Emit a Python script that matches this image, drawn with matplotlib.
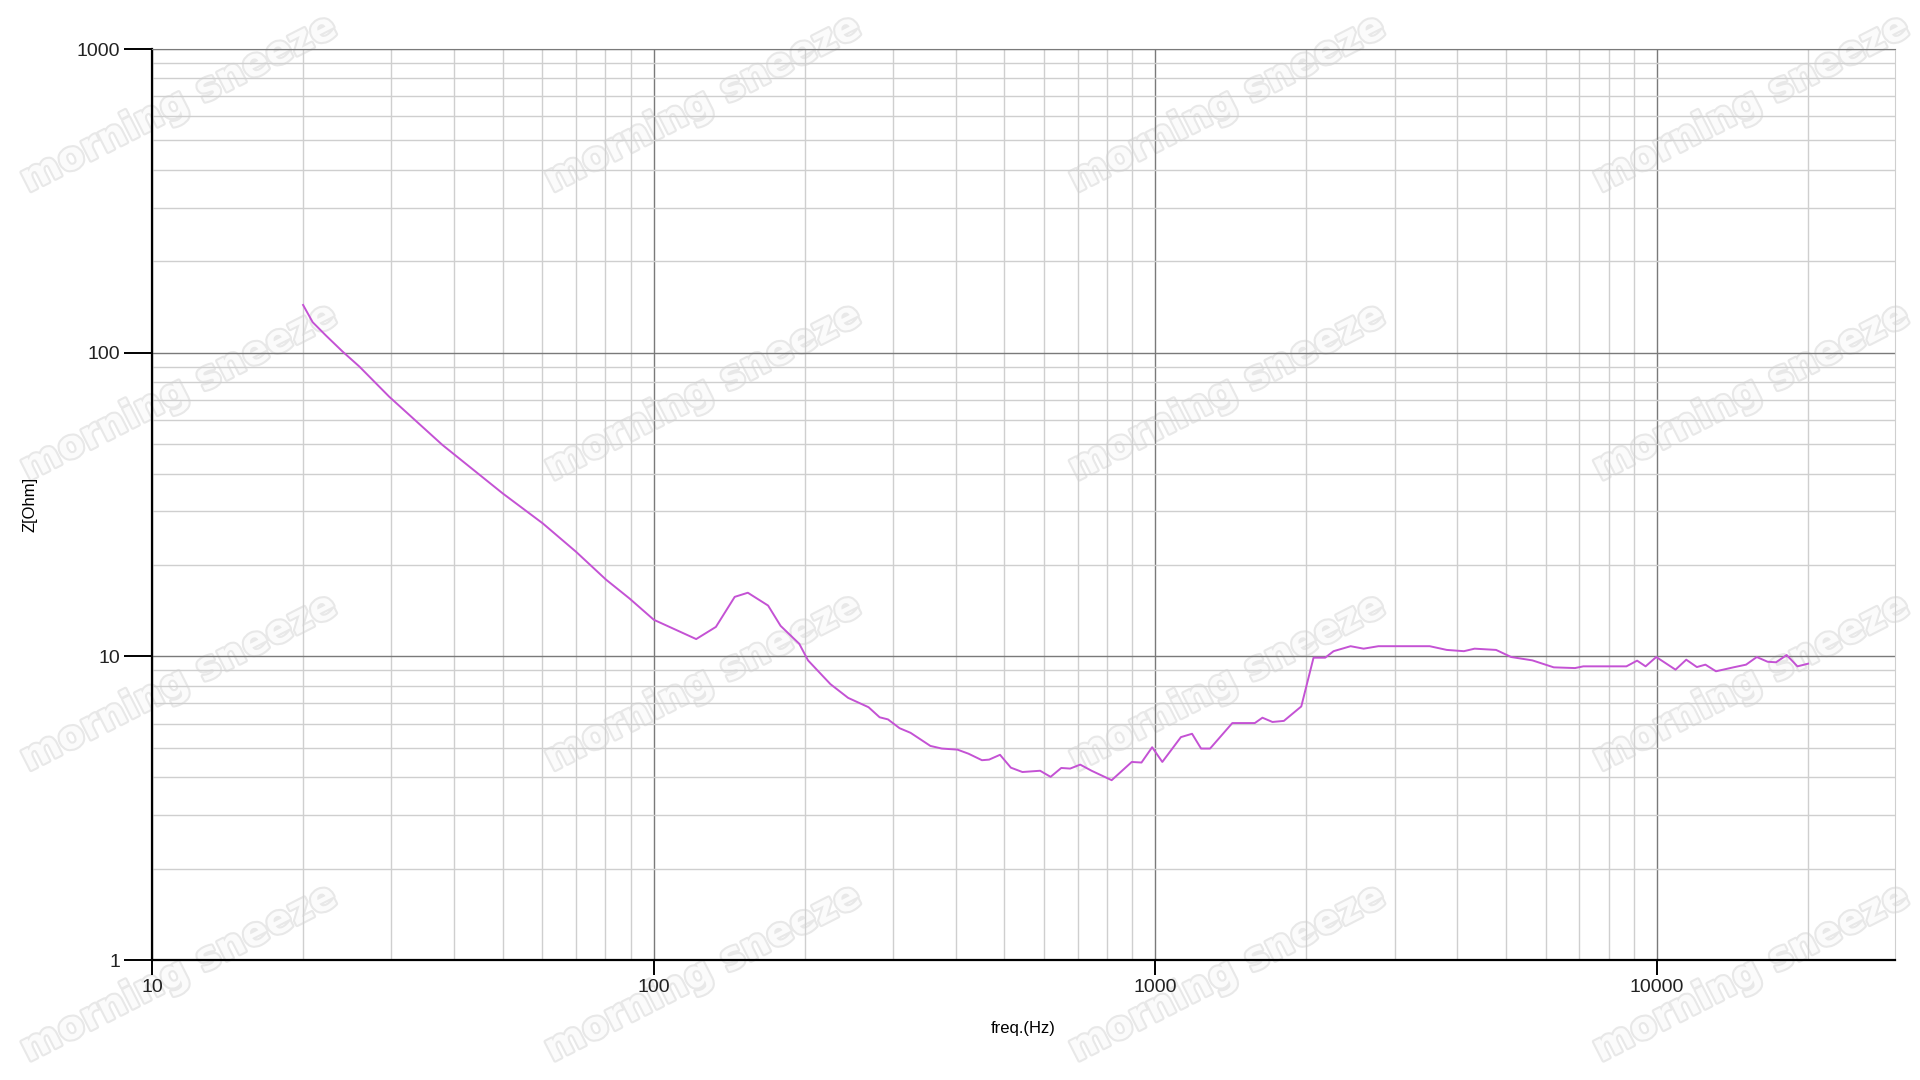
"""Impedance curve Z vs frequency, log-log."""
import matplotlib
matplotlib.use('Agg')
import matplotlib.pyplot as plt
import matplotlib.patheffects as pe
from matplotlib.ticker import LogLocator, NullFormatter, FixedLocator, FixedFormatter

freq = [20, 20.9, 22.2, 24.0, 25.9, 29.7, 37.9, 50, 60.1, 70, 80.3, 89.5, 100,
        121.5, 133, 145, 154, 169, 179, 195, 203, 225, 244, 268, 282, 293, 309,
        325, 356, 375, 403, 424, 451, 466, 490, 515, 543, 589, 618, 649, 676,
        708, 746, 818, 897, 938, 985, 1032, 1124, 1183, 1233, 1285, 1423, 1578,
        1634, 1711, 1803, 1953, 2066, 2180, 2265, 2449, 2600, 2782, 3008, 3521,
        3808, 4120, 4326, 4775, 5117, 5640, 6222, 6860, 7125, 8686, 9121, 9484,
        9960, 10880, 11430, 12000, 12480, 13100, 14190, 15040, 15800, 16600,
        17260, 18120, 19040, 20000]
z_ohm = [143.6, 126, 114, 100.7, 90, 71.6, 49.7, 34.4, 27.4, 22.1, 17.9, 15.5,
         13.2, 11.4, 12.5, 15.7, 16.2, 14.7, 12.6, 11.0, 9.7, 8.1, 7.3, 6.8,
         6.3, 6.2, 5.8, 5.6, 5.07, 4.97, 4.93, 4.78, 4.55, 4.57, 4.74, 4.30,
         4.16, 4.20, 4.01, 4.29, 4.27, 4.40, 4.20, 3.91, 4.49, 4.47, 5.02, 4.49,
         5.42, 5.56, 4.97, 4.97, 6.03, 6.03, 6.28, 6.08, 6.13, 6.84, 9.9, 9.9,
         10.4, 10.8, 10.6, 10.8, 10.8, 10.8, 10.5, 10.4, 10.6, 10.5, 9.95, 9.7,
         9.2, 9.15, 9.27, 9.27, 9.68, 9.27, 9.95, 9.04, 9.75, 9.22, 9.39, 8.93,
         9.2, 9.39, 9.95, 9.6, 9.56, 10.1, 9.27, 9.46]

y_ticks = [1, 10, 100, 1000]
x_ticks = [10, 100, 1000, 10000]
watermark = 'morning sneeze'

plt.rcParams['font.family'] = ['Liberation Sans', 'DejaVu Sans']

fig = plt.figure(figsize=(19.2, 10.8), dpi=100)
fig.patch.set_facecolor('white')
ax = fig.add_axes([0.0792, 0.1111, 0.9078, 0.8435])
ax.patch.set_alpha(0)

ax.plot(freq, z_ohm, color='#c452d4', lw=1.4, zorder=5)

ax.set_xscale('log')
ax.set_yscale('log')
ax.set_xlim(10, 29800)
ax.set_ylim(1, 1000)

ax.xaxis.set_major_locator(FixedLocator(x_ticks))
ax.xaxis.set_major_formatter(FixedFormatter([str(t) for t in x_ticks]))
ax.yaxis.set_major_locator(FixedLocator(y_ticks))
ax.yaxis.set_major_formatter(FixedFormatter([str(t) for t in y_ticks]))
ax.xaxis.set_minor_locator(LogLocator(base=10, subs=range(2, 10), numticks=20))
ax.yaxis.set_minor_locator(LogLocator(base=10, subs=range(2, 10), numticks=20))
ax.xaxis.set_minor_formatter(NullFormatter())
ax.yaxis.set_minor_formatter(NullFormatter())

ax.grid(which='major', color='#7a7a7a', lw=1.0)
ax.grid(which='minor', color='#cfcfcf', lw=1.0)
ax.set_axisbelow(True)

ax.tick_params(axis='y', which='major', length=20, width=1.4, labelsize=14,
               color='black', labelcolor='#222222', pad=3)
ax.tick_params(axis='x', which='major', length=11, width=1.4, labelsize=14,
               color='black', labelcolor='#222222', pad=3)
ax.tick_params(which='minor', length=0)

for side in ('left', 'bottom'):
    ax.spines[side].set_color('black')
    ax.spines[side].set_linewidth(1.6)
ax.spines['top'].set_color('#7a7a7a')
ax.spines['right'].set_color('#cfcfcf')

ax.set_xlabel('freq.(Hz)', fontsize=12, labelpad=18)
ax.set_ylabel('Z[Ohm]', fontsize=12, labelpad=28)

# watermark grid, drawn under the axes
for cx in [0.093, 0.366, 0.639, 0.912]:
    for cy in [0.904, 0.637, 0.368, 0.099]:
        fig.text(cx, cy, watermark, fontsize=28, fontweight='bold', color='#fbfbfb',
                 rotation=27, ha='center', va='center', zorder=-1,
                 family='DejaVu Sans',
                 path_effects=[pe.withStroke(linewidth=3, foreground='#e8e8e8')])

fig.savefig('out.png', dpi=100, facecolor='white')
plt.close(fig)
